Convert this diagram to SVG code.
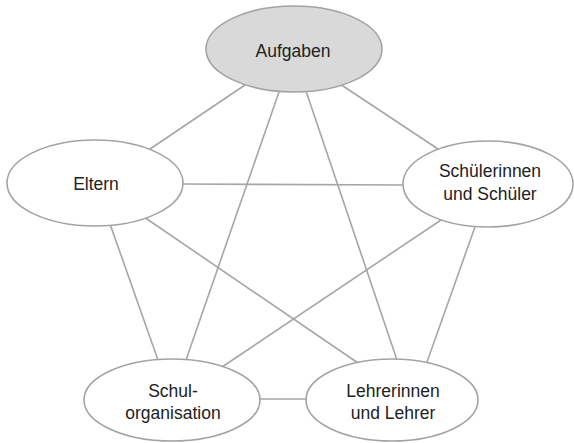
<svg xmlns="http://www.w3.org/2000/svg" width="574" height="443" viewBox="0 0 574 443">
<style>
.edge{stroke:#a6a6a6;stroke-width:1.6;fill:none}
.node{fill:#ffffff;stroke:#a3a3a3;stroke-width:1.6}
.hl{fill:#d9d9d9}
.lbl{font-family:"Liberation Sans",Arial,sans-serif;font-size:17.5px;fill:#222222;text-anchor:middle}
</style>
<rect width="574" height="443" fill="#ffffff"/>
<g id="connectors">
<line class="edge" x1="245" y1="85" x2="150" y2="149"/>
<line class="edge" x1="340" y1="84" x2="438" y2="149"/>
<line class="edge" x1="279" y1="92" x2="186" y2="360"/>
<line class="edge" x1="306" y1="91" x2="397" y2="360"/>
<line class="edge" x1="181" y1="184" x2="405" y2="185"/>
<line class="edge" x1="110" y1="224" x2="158" y2="360"/>
<line class="edge" x1="144" y1="217" x2="358" y2="363"/>
<line class="edge" x1="444" y1="218" x2="222" y2="367"/>
<line class="edge" x1="476" y1="224" x2="427" y2="362"/>
<line class="edge" x1="259" y1="399" x2="308" y2="399"/>
</g>
<g id="aufgaben">
<ellipse class="node hl" cx="294" cy="49" rx="88" ry="43"/>
<text class="lbl" x="293" y="57">Aufgaben</text>
</g>
<g id="eltern">
<ellipse class="node" cx="95" cy="183" rx="88" ry="43"/>
<text class="lbl" x="96" y="190">Eltern</text>
</g>
<g id="schueler">
<ellipse class="node" cx="488" cy="184" rx="85" ry="43"/>
<text class="lbl" x="490" y="177">Schülerinnen</text>
<text class="lbl" x="490" y="200">und Schüler</text>
</g>
<g id="schulorganisation">
<ellipse class="node" cx="172" cy="400" rx="88" ry="41"/>
<text class="lbl" x="173" y="397">Schul-</text>
<text class="lbl" x="173" y="419">organisation</text>
</g>
<g id="lehrer">
<ellipse class="node" cx="392" cy="400" rx="86" ry="41"/>
<text class="lbl" x="393" y="397">Lehrerinnen</text>
<text class="lbl" x="393" y="419">und Lehrer</text>
</g>
</svg>
